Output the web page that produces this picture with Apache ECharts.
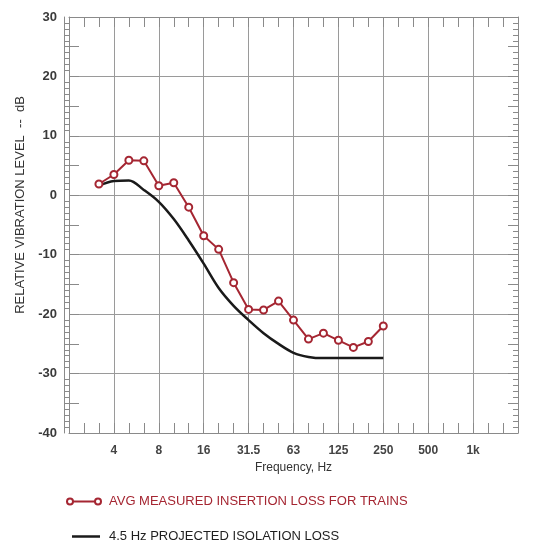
<!DOCTYPE html>
<html>
<head>
<meta charset="utf-8">
<script src="https://cdn.jsdelivr.net/npm/echarts@6/dist/echarts.min.js"></script>
<style>
  html, body { margin: 0; padding: 0; background: #fff; }
  #chart { width: 534px; height: 546px; }
</style>
</head>
<body>
<div id="chart"></div>
<script>
// One-third-octave band centre frequencies (Hz)
const freqs = [3.15, 4, 5, 6.3, 8, 10, 12.5, 16, 20, 25, 31.5, 40, 50, 63, 80, 100, 125, 160, 200, 250];
// Average measured insertion loss for trains (dB)
const measured = [1.9, 3.5, 5.9, 5.8, 1.6, 2.1, -2.0, -6.8, -9.1, -14.7, -19.2, -19.3, -17.8, -21.0, -24.2, -23.2, -24.4, -25.6, -24.6, -22.0];
// 4.5 Hz projected isolation loss (dB)
const projected = [1.6, 2.4, 2.5, 0.9, -1.1, -4.0, -7.6, -11.5, -15.6, -18.6, -21.0, -23.2, -25.0, -26.5, -27.2, -27.4, -27.4, -27.4, -27.4, -27.4];
// Octave tick labels, keyed by log2 of the band frequency
const octaveLabels = { 2: '4', 3: '8', 4: '16', 5: '31.5', 6: '63', 7: '125', 8: '250', 9: '500', 10: '1k' };

const measuredName = 'AVG MEASURED INSERTION LOSS FOR TRAINS';
const projectedName = '4.5 Hz PROJECTED ISOLATION LOSS';

// nominal band frequency -> exact 1/3-octave position on a log2 axis
const bandPos = f => Math.round(3 * Math.log2(f)) / 3;
const pairs = vals => freqs.map((f, i) => [bandPos(f), vals[i]]);

const RED = '#a52632';
const GRID = '#9a9a9a';
const FRAME = '#8a8a8a';

const svgIcon = body => 'image://data:image/svg+xml;charset=utf-8,' + encodeURIComponent(
  '<svg xmlns="http://www.w3.org/2000/svg" width="40" height="10" viewBox="0 0 40 10">' + body + '</svg>');
const redIcon = svgIcon('<line x1="6" y1="5" x2="34" y2="5" stroke="' + RED + '" stroke-width="2"/>' +
  '<circle cx="6" cy="5" r="3" fill="#fff" stroke="' + RED + '" stroke-width="2"/>' +
  '<circle cx="34" cy="5" r="3" fill="#fff" stroke="' + RED + '" stroke-width="2"/>');
const blackIcon = svgIcon('<line x1="8" y1="5" x2="36" y2="5" stroke="#1a1a1a" stroke-width="2.5"/>');

const FONT = 'Liberation Sans, Arial, sans-serif';

const chart = echarts.init(document.getElementById('chart'), null, { renderer: 'canvas' });

const xCommon = {
  type: 'value', min: 1, max: 11, interval: 1,
  axisLine: { show: true, onZero: false, lineStyle: { color: FRAME, width: 1 } },
  axisTick: { show: true, inside: true, length: 10, lineStyle: { color: FRAME } },
  minorTick: { show: true, splitNumber: 3, length: 10, lineStyle: { color: FRAME } }
};

const yTicks = (pos, interval, len, minor) => ({
  type: 'value', position: pos, min: -40, max: 30, interval: interval,
  axisLine: { show: false }, axisLabel: { show: false }, splitLine: { show: false },
  axisTick: { show: true, inside: true, length: len, lineStyle: { color: FRAME } },
  minorTick: minor ? { show: true, splitNumber: 10, length: 5, lineStyle: { color: FRAME } } : { show: false }
});

chart.setOption({
  animation: false,
  backgroundColor: '#fff',
  grid: { left: 69, right: 16, top: 17, bottom: 113, containLabel: false },
  xAxis: [
    Object.assign({}, xCommon, {
      position: 'bottom',
      name: 'Frequency, Hz', nameLocation: 'middle', nameGap: 27,
      nameTextStyle: { fontFamily: FONT, fontSize: 12, color: '#333' },
      axisLabel: {
        margin: 12, fontFamily: FONT, fontSize: 12, fontWeight: 'bold', color: '#444',
        formatter: v => octaveLabels[Math.round(v)] || ''
      },
      splitLine: { show: true, lineStyle: { color: GRID, width: 1 } }
    }),
    Object.assign({}, xCommon, {
      position: 'top',
      axisLabel: { show: false },
      splitLine: { show: false }
    })
  ],
  yAxis: [
    {
      type: 'value', position: 'left', min: -40, max: 30, interval: 10,
      name: 'RELATIVE VIBRATION LEVEL  --  dB', nameLocation: 'middle', nameGap: 42,
      nameTextStyle: { fontFamily: FONT, fontSize: 13, color: '#333', padding: [0, 0, 0, 40] },
      axisLine: { show: true, onZero: false, lineStyle: { color: FRAME } },
      axisTick: { show: false },
      minorTick: { show: true, splitNumber: 10, length: 5, lineStyle: { color: FRAME } },
      axisLabel: { margin: 12, fontFamily: FONT, fontSize: 13, fontWeight: 'bold', color: '#3a3a3a' },
      splitLine: { show: true, lineStyle: { color: GRID, width: 1 } }
    },
    yTicks('left', 5, 10, false),
    Object.assign(yTicks('right', 10, 5, true), { axisLine: { show: true, onZero: false, lineStyle: { color: FRAME } } }),
    yTicks('right', 5, 10, false),
    {
      // outer rule of the double left frame
      type: 'value', position: 'left', offset: 5, min: -40, max: 30,
      axisLine: { show: true, onZero: false, lineStyle: { color: FRAME } },
      axisTick: { show: false }, axisLabel: { show: false }, splitLine: { show: false }
    }
  ],
  legend: [
    {
      left: 64, top: 495, padding: 0, itemWidth: 40, itemHeight: 10, selectedMode: false,
      data: [{ name: measuredName, icon: redIcon }],
      textStyle: { fontFamily: FONT, fontSize: 13, color: RED }
    },
    {
      left: 64, top: 530, padding: 0, itemWidth: 40, itemHeight: 10, selectedMode: false,
      data: [{ name: projectedName, icon: blackIcon }],
      textStyle: { fontFamily: FONT, fontSize: 13, color: '#1f1f1f' }
    }
  ],
  series: [
    {
      name: projectedName, type: 'line', data: pairs(projected),
      showSymbol: false, symbol: 'none',
      smooth: 0.35,
      lineStyle: { color: '#1a1a1a', width: 2.5 },
      itemStyle: { color: '#1a1a1a' },
      z: 3
    },
    {
      name: measuredName, type: 'line', data: pairs(measured),
      symbol: 'circle', symbolSize: 7,
      lineStyle: { color: RED, width: 2 },
      itemStyle: { color: '#fff', borderColor: RED, borderWidth: 2 },
      z: 4
    }
  ]
});
</script>
</body>
</html>
